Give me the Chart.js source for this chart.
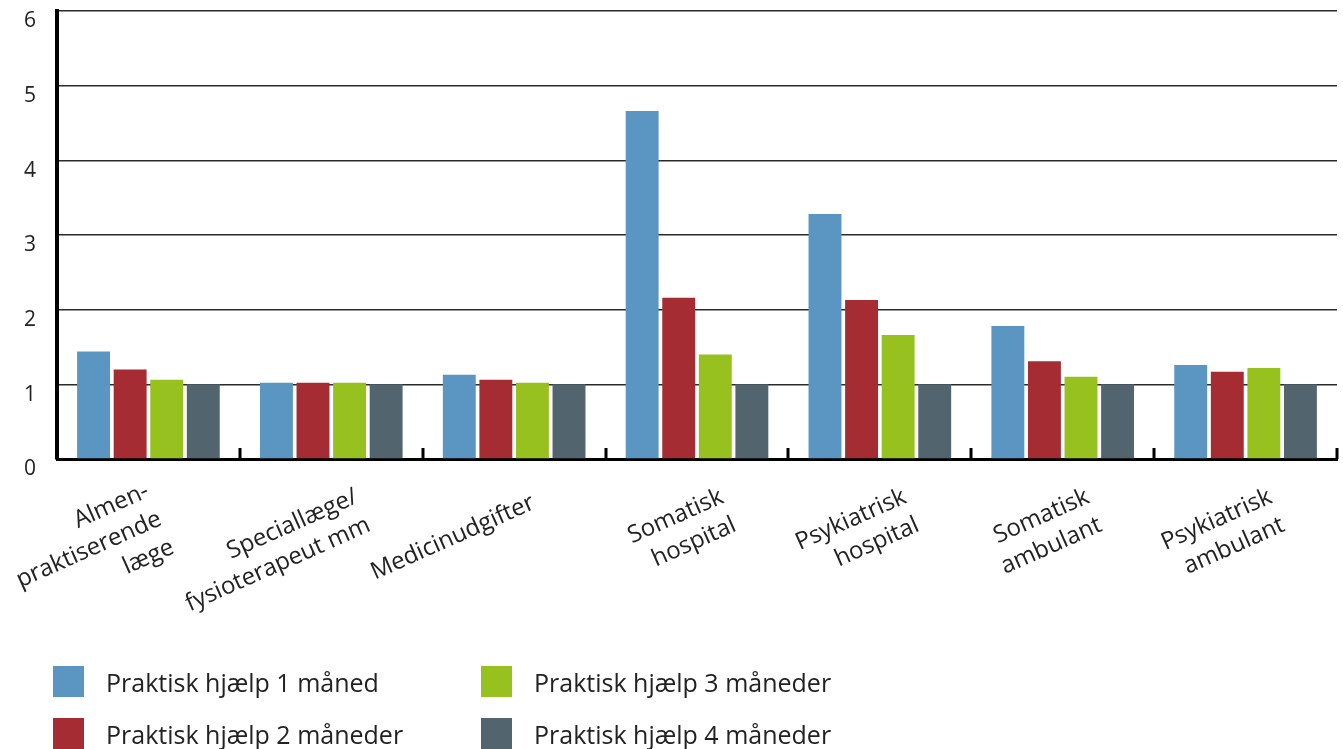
<!DOCTYPE html>
<html lang="da">
<head>
<meta charset="utf-8">
<title>Praktisk hjælp – udgifter</title>
<script src="https://cdn.jsdelivr.net/npm/chart.js@4/dist/chart.umd.min.js"></script>
<style>
  html, body { margin: 0; padding: 0; background: #fff; }
  #wrap { position: relative; width: 1343px; height: 749px; overflow: hidden; }
  #chart { position: absolute; left: 0; top: 0; }
  #legend {
    position: absolute; left: 53px; top: 666px;
    display: grid; grid-template-columns: 428px 428px; grid-template-rows: 52px 52px;
    grid-auto-flow: column;
    font-family: "Open Sans", sans-serif; font-weight: 400; font-size: 25px; color: #222;
  }
  .item { display: flex; align-items: flex-start; height: 31px; }
  .sw { width: 31px; height: 31px; flex: none; }
  .txt { margin-left: 22px; line-height: 31px; position: relative; top: 1px; white-space: nowrap; }
</style>
</head>
<body>
<div id="wrap">
  <canvas id="chart" width="1343" height="749"></canvas>
  <div id="legend"></div>
</div>
<script>
// Categories (multi-line labels as arrays)
const categories = [
  ['Almen-', 'praktiserende', 'læge'],
  ['Speciallæge/', 'fysioterapeut mm'],
  'Medicinudgifter',
  ['Somatisk', 'hospital'],
  ['Psykiatrisk', 'hospital'],
  ['Somatisk', 'ambulant'],
  ['Psykiatrisk', 'ambulant']
];

const seriesNames = [
  'Praktisk hjælp 1 måned',
  'Praktisk hjælp 2 måneder',
  'Praktisk hjælp 3 måneder',
  'Praktisk hjælp 4 måneder'
];

const hjaelp1 = [1.44, 1.02, 1.13, 4.66, 3.28, 1.78, 1.26];
const hjaelp2 = [1.20, 1.02, 1.06, 2.16, 2.13, 1.31, 1.17];
const hjaelp3 = [1.06, 1.02, 1.02, 1.40, 1.66, 1.10, 1.22];
const hjaelp4 = [1.00, 1.00, 1.00, 1.00, 1.00, 1.00, 1.00];

const yTicks = [0, 1, 2, 3, 4, 5, 6];

const colors = ['#5b95c2', '#a62c33', '#96c11f', '#52656f'];

const FONT = '"Open Sans", sans-serif';
Chart.defaults.font.family = FONT;
Chart.defaults.color = '#222';

// Short upward tick marks on the category axis, at every category boundary
const boundaryTicks = {
  id: 'boundaryTicks',
  afterDatasetsDraw(chart) {
    const xs = chart.scales.x, ctx = chart.ctx;
    const n = chart.data.labels.length;
    ctx.save();
    ctx.fillStyle = '#000';
    for (let i = 1; i <= n; i++) {
      const x = xs.getPixelForValue(i - 0.5);
      ctx.fillRect(Math.round(x) - 1.5, xs.top - 11, 3, 11);
    }
    ctx.restore();
  }
};

// Rotated, right-aligned multi-line category labels
const categoryLabels = {
  id: 'categoryLabels',
  afterDraw(chart) {
    const xs = chart.scales.x, ctx = chart.ctx;
    const angle = -24 * Math.PI / 180;
    const lineH = 31;
    const shift = { 1: [22, 49], 2: [28, 43], 3: [2, 37] };
    ctx.save();
    ctx.font = '400 24px ' + FONT;
    ctx.fillStyle = '#222';
    ctx.textAlign = 'right';
    ctx.textBaseline = 'alphabetic';
    chart.data.labels.forEach((lab, i) => {
      const lines = Array.isArray(lab) ? lab : [lab];
      const [dx, dy] = shift[lines.length];
      ctx.save();
      ctx.translate(xs.getPixelForValue(i) + dx, xs.top + dy);
      ctx.rotate(angle);
      lines.forEach((t, j) => ctx.fillText(t, 0, j * lineH));
      ctx.restore();
    });
    ctx.restore();
  }
};

const seriesData = [hjaelp1, hjaelp2, hjaelp3, hjaelp4];

const chart = new Chart(document.getElementById('chart'), {
  type: 'bar',
  data: {
    labels: categories,
    datasets: seriesData.map((d, i) => ({
      label: seriesNames[i],
      data: d,
      backgroundColor: colors[i],
      borderWidth: 0,
      categoryPercentage: 0.80,
      barPercentage: 0.90
    }))
  },
  options: {
    responsive: false,
    animation: false,
    layout: { padding: { top: 11, right: 6, left: 0, bottom: 0 } },
    plugins: {
      legend: { display: false },
      tooltip: { enabled: false }
    },
    scales: {
      x: {
        grid: { display: true, drawOnChartArea: false, drawTicks: false },
        border: { display: true, width: 3, color: '#000' },
        ticks: { display: false },
        afterFit(scale) { scale.height = 290; }
      },
      y: {
        min: 0, max: 6,
        afterBuildTicks(scale) { scale.ticks = yTicks.map(v => ({ value: v })); },
        grid: { color: '#2b2b2b', lineWidth: 1.5, drawTicks: false },
        border: { display: true, width: 4, color: '#000' },
        ticks: {
          padding: 21,
          labelOffset: 10.5,
          font: { size: 21, lineHeight: 1, weight: '400' },
          color: '#222'
        },
        afterFit(scale) {
          scale.width = 57;
          scale.paddingTop = 0;
          scale.paddingBottom = 0;
        }
      }
    }
  },
  plugins: [boundaryTicks, categoryLabels]
});

// Legend built from the chart's datasets, two columns filled top to bottom
const legendEl = document.getElementById('legend');
chart.data.datasets.forEach(ds => {
  const item = document.createElement('div');
  item.className = 'item';
  const sw = document.createElement('span');
  sw.className = 'sw';
  sw.style.background = ds.backgroundColor;
  const txt = document.createElement('span');
  txt.className = 'txt';
  txt.textContent = ds.label;
  item.appendChild(sw);
  item.appendChild(txt);
  legendEl.appendChild(item);
});
</script>
</body>
</html>
